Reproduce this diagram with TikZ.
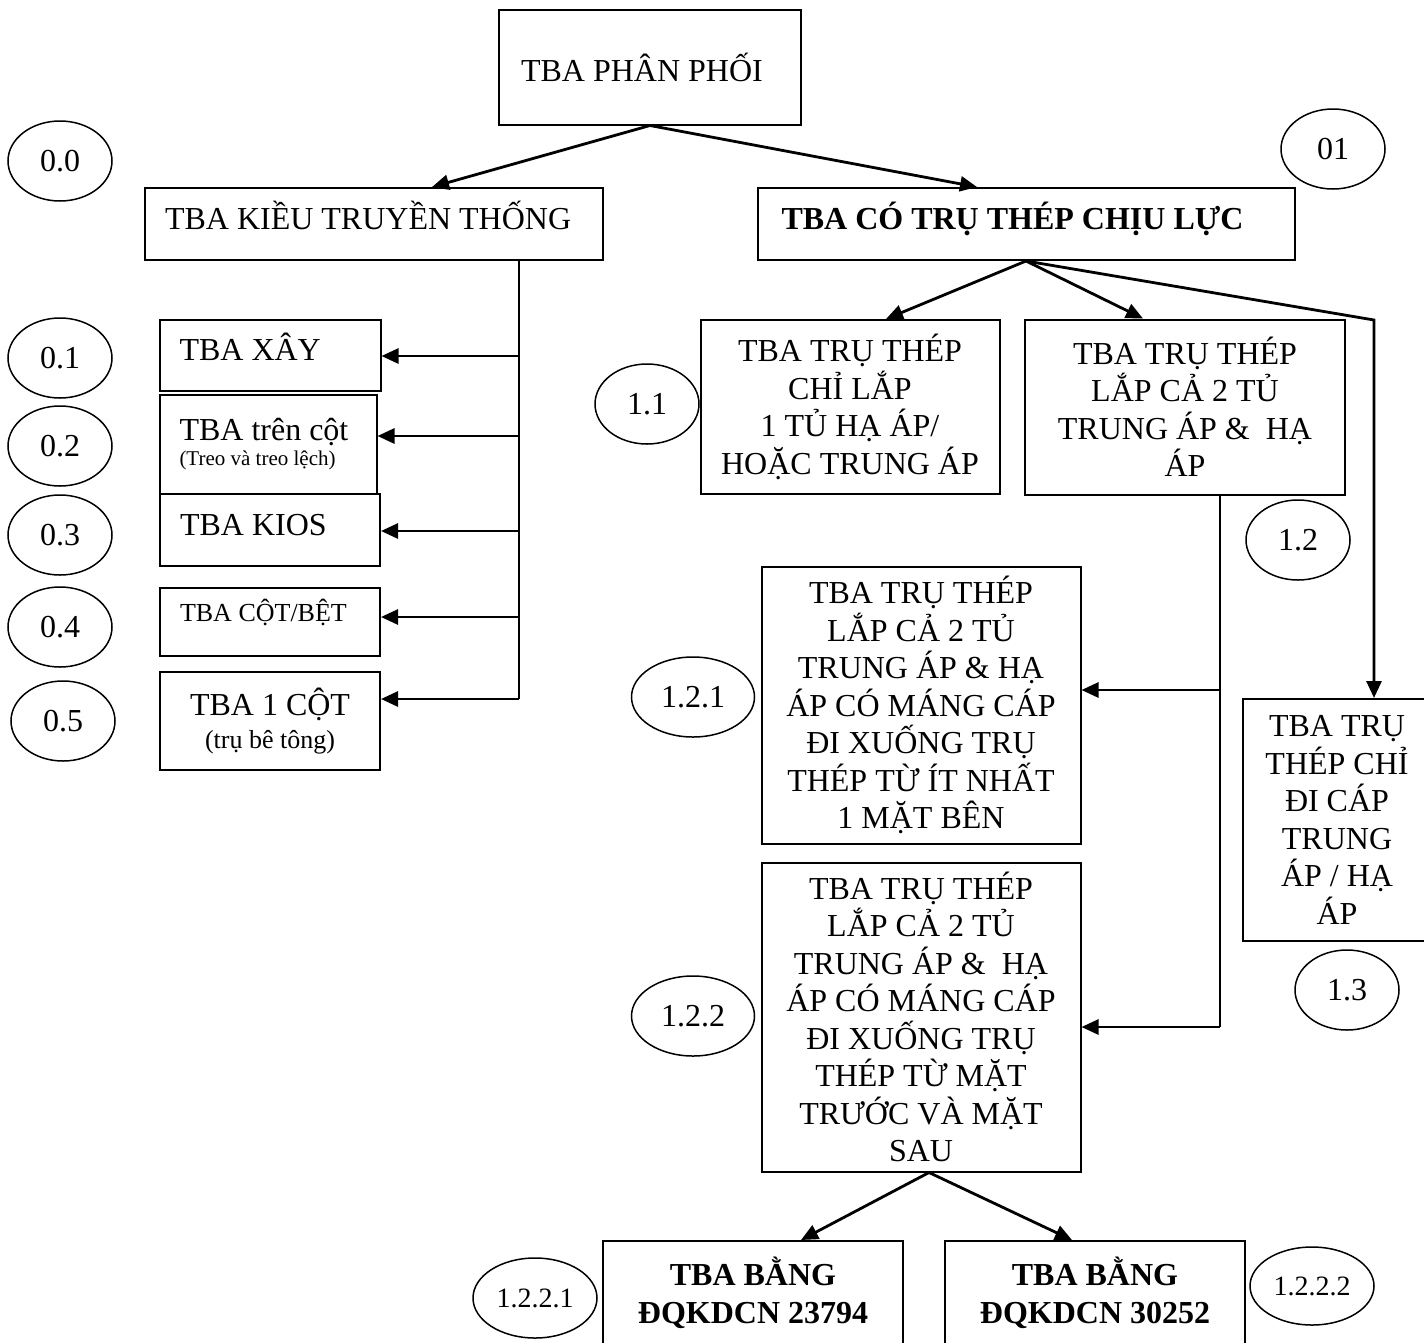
\documentclass[tikz,border=0pt]{standalone}
\usepackage{fontspec}
\setmainfont{Liberation Serif}
\usetikzlibrary{arrows.meta,shapes.geometric}
\newcommand{\bigtxt}{\fontsize{32}{37.5}\selectfont}
\tikzset{
  box/.style={draw,line width=2pt,align=center,inner sep=0pt,font=\bigtxt},
  onerow/.style={text height=25pt,text depth=15pt},
  tag/.style={draw,ellipse,line width=1.5pt,minimum width=104,minimum height=80,inner sep=0pt,font=\bigtxt},
  arr/.style={line width=2.8pt,-{Triangle[length=17pt,width=15pt]}},
  bus/.style={line width=2.6pt},
}
\begin{document}
\begin{tikzpicture}[x=1pt,y=-1pt]
\useasboundingbox (0,0) rectangle (1424,1342);

% Top levels
\node[box,minimum width=302,minimum height=115,text width=258,align=flush left] (root) at (650,67) {TBA PHÂN PHỐI};
\node[box,onerow,minimum width=458,minimum height=72,text width=418,align=flush left] (trad) at (374,224) {TBA KIỀU TRUYỀN THỐNG};
\node[box,onerow,minimum width=537,minimum height=72,text width=489,align=flush left,font=\bfseries\bigtxt] (steel) at (1026,224) {TBA CÓ TRỤ THÉP CHỊU LỰC};
\draw[arr] (root.south) -- ([xshift=58pt]trad.north);
\draw[arr] (root.south) -- ([xshift=-49pt]steel.north);

% Traditional substations
\node[box,onerow,minimum width=221,minimum height=71,text width=181,align=flush left] (xay) at (270,355) {TBA XÂY};
\node[box,minimum width=217,minimum height=99,text width=177,align=flush left] (pole) at (268,444) {TBA trên cột\\[-12pt]{\fontsize{21}{24}\selectfont(Treo và treo lệch)}};
\node[box,onerow,minimum width=220,minimum height=72,text width=180,align=flush left] (kios) at (270,530) {TBA KIOS};
\node[box,minimum width=220,minimum height=68,text width=180,align=flush left,text height=19pt,text depth=21pt,font=\fontsize{26}{30}\selectfont] (bet) at (270,622) {TBA CỘT/BỆT};
\node[box,minimum width=220,minimum height=98] (onepole) at (270,721) {TBA 1 CỘT\\[-4pt]{\fontsize{26}{30}\selectfont(trụ bê tông)}};

% Left bus
\coordinate (busA) at ([xshift=145pt]trad.south);
\coordinate (busB) at (519,699);
\draw[bus] (busA) -- (busB);
\foreach \y/\n in {356/xay,436/pole,531/kios,617/bet,699/onepole} {
  \draw[arr] (busA |- 0,\y) -- (\n.east |- 0,\y);
}

% Steel pole substations
\node[box,minimum width=299,minimum height=174] (s11) at (850,407) {TBA TRỤ THÉP\\CHỈ LẮP\\1 TỦ HẠ ÁP/\\HOẶC TRUNG ÁP};
\node[box,minimum width=320,minimum height=175] (s12) at (1185,407) {TBA TRỤ THÉP\\LẮP CẢ 2 TỦ\\TRUNG ÁP \&\ \ HẠ\\ÁP};
\node[box,minimum width=319,minimum height=277] (s121) at (921,705) {TBA TRỤ THÉP\\LẮP CẢ 2 TỦ\\TRUNG ÁP \& HẠ\\ÁP CÓ MÁNG CÁP\\ĐI XUỐNG TRỤ\\THÉP TỪ ÍT NHẤT\\1 MẶT BÊN};
\node[box,minimum width=319,minimum height=309] (s122) at (921,1017) {TBA TRỤ THÉP\\LẮP CẢ 2 TỦ\\TRUNG ÁP \&\ \ HẠ\\ÁP CÓ MÁNG CÁP\\ĐI XUỐNG TRỤ\\THÉP TỪ MẶT\\TRƯỚC VÀ MẶT\\SAU};
\node[box,minimum width=188,minimum height=242] (s13) at (1337,820) {TBA TRỤ\\THÉP CHỈ\\ĐI CÁP\\TRUNG\\ÁP / HẠ\\ÁP};
\node[box,minimum width=300,minimum height=104,anchor=north,font=\bfseries\bigtxt] (s1221) at (753,1240) {TBA BẰNG\\ĐQKDCN 23794};
\node[box,minimum width=300,minimum height=104,anchor=north,font=\bfseries\bigtxt] (s1222) at (1095,1240) {TBA BẰNG\\ĐQKDCN 30252};

\draw[arr] (steel.south) -- ([xshift=36pt]s11.north);
\draw[arr] (steel.south) -- ([xshift=-42pt]s12.north);
\coordinate (turn) at (1374,320);
\draw[arr] (steel.south) -- (turn) -- (turn |- s13.north);

% Right bus
\coordinate (busC) at ([xshift=35pt]s12.south);
\coordinate (busD) at (busC |- 0,1027);
\draw[bus] (busC) -- (busD);
\draw[arr] (busC |- 0,690) -- (s121.east |- 0,690);
\draw[arr] (busD) -- (s122.east |- busD);

\draw[arr] ([xshift=8pt]s122.south) -- ([xshift=48pt]s1221.north);
\draw[arr] ([xshift=8pt]s122.south) -- ([xshift=-23pt]s1222.north);

% Labels
\node[tag] (t00) at (60,161) {0.0};
\node[tag] (t01) at (1333,149) {01};
\node[tag] (t01a) at (60,358) {0.1};
\node[tag] (t02) at (60,446) {0.2};
\node[tag] (t03) at (60,535) {0.3};
\node[tag] (t04) at (60,627) {0.4};
\node[tag] (t05) at (63,721) {0.5};
\node[tag] (t11) at (647,404) {1.1};
\node[tag] (t12) at (1298,540) {1.2};
\node[tag,minimum width=123] (t121) at (693,697) {1.2.1};
\node[tag,minimum width=123] (t122) at (693,1016) {1.2.2};
\node[tag] (t13) at (1347,990) {1.3};
\node[tag,minimum width=124,font=\fontsize{28}{32}\selectfont] (t1221) at (535,1298) {1.2.2.1};
\node[tag,minimum width=124,minimum height=78,font=\fontsize{28}{32}\selectfont] (t1222) at (1312,1286) {1.2.2.2};

\end{tikzpicture}
\end{document}
